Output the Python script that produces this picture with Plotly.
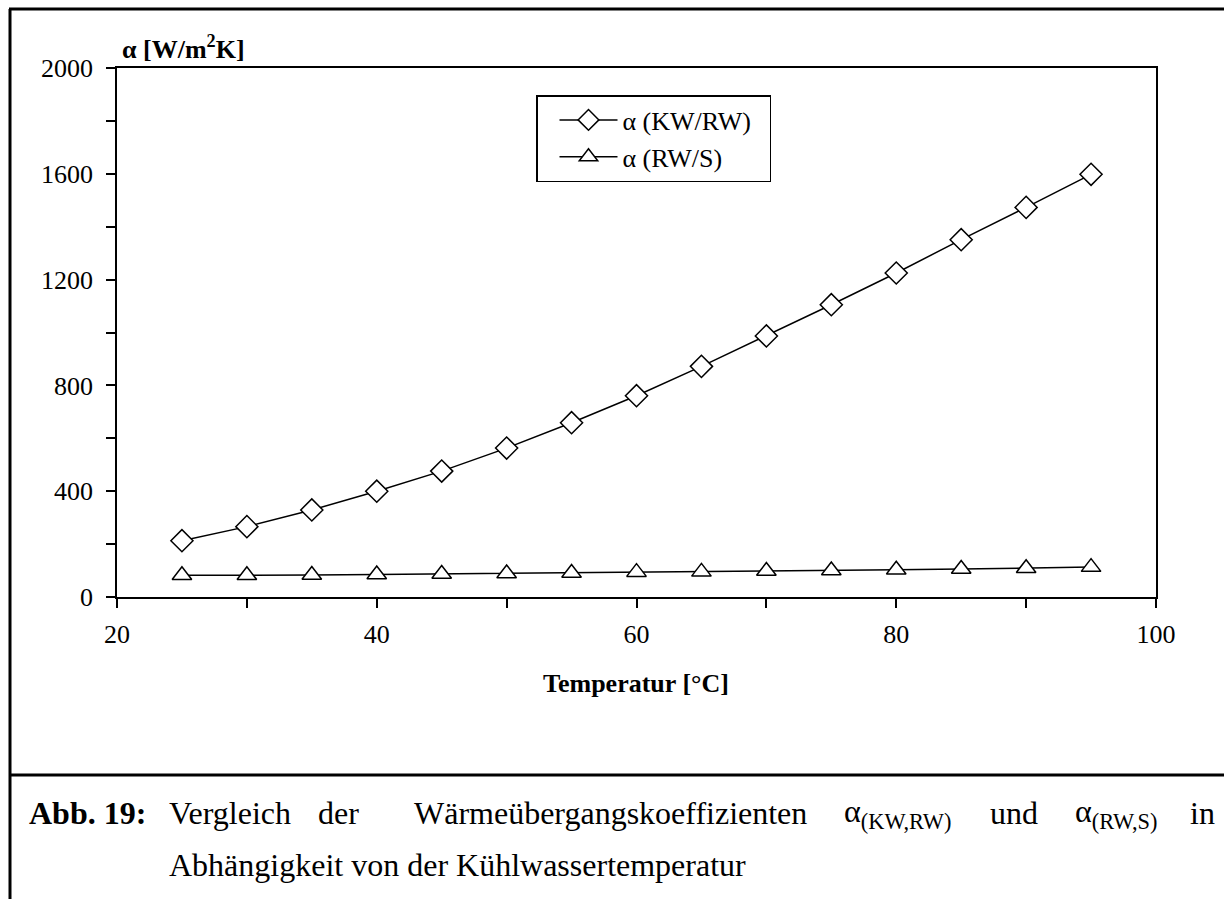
import plotly.graph_objects as go

# ---- data ----
temperature = [25, 30, 35, 40, 45, 50, 55, 60, 65, 70, 75, 80, 85, 90, 95]
alpha_kw_rw = [213, 266, 329, 400, 476, 563, 659, 761, 872, 987, 1105, 1225, 1351, 1473, 1598]
alpha_rw_s = [82, 82, 83, 85, 87, 89, 91, 94, 95, 98, 100, 103, 106, 109, 113]
series_names = ["α (KW/RW)", "α (RW/S)"]
x_tickvals = [20, 40, 60, 80, 100]
y_tickvals = [0, 400, 800, 1200, 1600, 2000]

W, H = 1224, 899
L, R, T, B = 117, 1156, 68, 597
FONT = "Liberation Serif, Times New Roman, serif"


def px(x):
    return (x - L) / (R - L)


def py(y):
    return (B - y) / (B - T)


fig = go.Figure()
fig.add_trace(go.Scatter(
    x=temperature, y=alpha_kw_rw, name=series_names[0] + "\u00a0\u00a0", mode="lines+markers",
    line=dict(color="black", width=1.5),
    marker=dict(symbol="diamond", size=17, color="white", line=dict(color="black", width=1.5)),
))
fig.add_trace(go.Scatter(
    x=temperature, y=alpha_rw_s, name=series_names[1], mode="lines+markers",
    line=dict(color="black", width=1.5),
    marker=dict(symbol="triangle-up", size=17, color="white", line=dict(color="black", width=1.5)),
))

axis_common = dict(
    showgrid=False, zeroline=False, showline=True, linecolor="black", linewidth=1.5,
    mirror=True, ticks="outside", ticklen=9, tickwidth=1.5, tickcolor="black",
    tickfont=dict(family=FONT, size=26, color="black"),
)
fig.update_xaxes(range=[20, 100], tickvals=x_tickvals,
                 minor=dict(dtick=10, ticks="outside", ticklen=9, tickwidth=1.5, tickcolor="black"),
                 ticklabelstandoff=4, **axis_common)
fig.update_yaxes(range=[0, 2000], tickvals=y_tickvals,
                 minor=dict(dtick=200, ticks="outside", ticklen=9, tickwidth=1.5, tickcolor="black"),
                 ticklabelstandoff=8, **axis_common)

annotations = [
    dict(x=px(120), y=py(47), text="<b>α [W/m<sup>2</sup>K]</b>", xanchor="left", yanchor="middle",
         font=dict(size=26)),
    dict(x=px(636), y=py(683), text="<b>Temperatur [°C]</b>", xanchor="center", yanchor="middle",
         font=dict(size=26)),
    dict(x=px(27), y=py(813), text="<b>Abb. 19:</b>", xanchor="left", yanchor="middle", font=dict(size=32)),
    dict(x=px(167), y=py(813), text="Vergleich", xanchor="left", yanchor="middle", font=dict(size=32)),
    dict(x=px(316), y=py(813), text="der", xanchor="left", yanchor="middle", font=dict(size=32)),
    dict(x=px(412), y=py(813), text="Wärmeübergangskoeffizienten", xanchor="left", yanchor="middle",
         font=dict(size=32)),
    dict(x=px(842), y=py(813), text="α<sub>(KW,RW)</sub>", xanchor="left", yanchor="middle", font=dict(size=32)),
    dict(x=px(988), y=py(813), text="und", xanchor="left", yanchor="middle", font=dict(size=32)),
    dict(x=px(1073), y=py(813), text="α<sub>(RW,S)</sub>", xanchor="left", yanchor="middle", font=dict(size=32)),
    dict(x=px(1217), y=py(813), text="in", xanchor="right", yanchor="middle", font=dict(size=32)),
    dict(x=px(167), y=py(865), text="Abhängigkeit von der Kühlwassertemperatur", xanchor="left",
         yanchor="middle", font=dict(size=32)),
]
for a in annotations:
    a.update(xref="paper", yref="paper", showarrow=False)
    a["font"].update(family=FONT, color="black")

shapes = [
    dict(type="line", x0=px(10), x1=px(10), y0=py(9), y1=py(899), line=dict(color="black", width=3)),
    dict(type="line", x0=px(9), x1=px(1224), y0=py(9), y1=py(9), line=dict(color="black", width=3)),
    dict(type="line", x0=px(9), x1=px(1224), y0=py(775), y1=py(775), line=dict(color="black", width=3)),
]
for s in shapes:
    s.update(xref="paper", yref="paper")

fig.update_layout(
    width=W, height=H,
    margin=dict(l=L, r=W - R, t=T, b=H - B, pad=0),
    paper_bgcolor="white", plot_bgcolor="white",
    font=dict(family=FONT, color="black"),
    showlegend=True,
    legend=dict(
        x=px(536), y=py(95), xanchor="left", yanchor="top",
        bgcolor="white", bordercolor="black", borderwidth=1.5,
        font=dict(family=FONT, size=26, color="black"),
        itemwidth=58, indentation=17, tracegroupgap=0,
    ),
    annotations=annotations,
    shapes=shapes,
)

fig.write_html("out.html", config={"displayModeBar": False},
               post_script="document.body.style.margin='0';document.body.style.padding='0';")
